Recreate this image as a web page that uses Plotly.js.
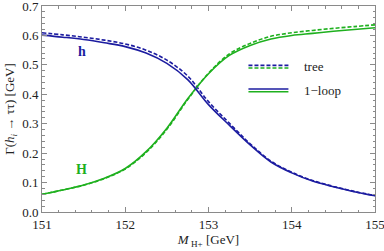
<!DOCTYPE html>
<html>
<head>
<meta charset="utf-8">
<script src="https://cdn.plot.ly/plotly-3.0.1.min.js"></script>
<style>html,body{margin:0;padding:0;background:#fff;}#chart{width:384px;height:251px;}</style>
</head>
<body>
<div id="chart"></div>
<script>
const mass = [151, 151.25, 151.5, 151.75, 152, 152.25, 152.5, 152.75, 153, 153.25, 153.5, 153.75, 154, 154.25, 154.5, 154.75, 155];
const hLoop = [0.601, 0.594, 0.586, 0.575, 0.562, 0.540, 0.505, 0.450, 0.365, 0.295, 0.228, 0.170, 0.133, 0.105, 0.086, 0.069, 0.055];
const hTree = [0.609, 0.602, 0.594, 0.584, 0.571, 0.550, 0.516, 0.462, 0.375, 0.302, 0.232, 0.173, 0.135, 0.107, 0.087, 0.070, 0.056];
const HLoop = [0.060, 0.075, 0.092, 0.115, 0.148, 0.205, 0.285, 0.385, 0.470, 0.532, 0.566, 0.588, 0.600, 0.607, 0.614, 0.620, 0.626];
const HTree = [0.060, 0.075, 0.091, 0.114, 0.146, 0.202, 0.281, 0.382, 0.472, 0.537, 0.573, 0.597, 0.609, 0.617, 0.624, 0.630, 0.636];
const xTicks = [151, 152, 153, 154, 155];
const yTicks = [0, 0.1, 0.2, 0.3, 0.4, 0.5, 0.6, 0.7];
const yTickText = ["0.0", "0.1", "0.2", "0.3", "0.4", "0.5", "0.6", "0.7"];

const BLUE = '#1c1ca0';
const GREEN = '#1eb01e';
const FONT = 'Liberation Serif, serif';

function tr(y, color, dash) {
  return {x: mass, y: y, mode: 'lines', line: {color: color, width: 1.6, dash: dash, shape: 'spline', smoothing: 1}, showlegend: false, hoverinfo: 'skip'};
}
const data = [
  tr(HTree, GREEN, '4px,2px'),
  tr(hTree, BLUE, '4px,2px'),
  tr(HLoop, GREEN, 'solid'),
  tr(hLoop, BLUE, 'solid')
];

const axCommon = {
  showgrid: false, zeroline: false, showline: true, linecolor: '#8a8a8a', linewidth: 1,
  mirror: 'allticks', ticks: 'inside', ticklen: 5, tickcolor: '#8a8a8a', tickwidth: 1,
  tickfont: {family: FONT, size: 13, color: '#222'},
  ticklabeloverflow: 'allow',
  minor: {ticks: 'inside', ticklen: 2.5, tickcolor: '#8a8a8a', tickwidth: 1}
};

const layout = {
  width: 384, height: 251,
  margin: {l: 42, r: 9, t: 6, b: 39},
  paper_bgcolor: '#fff', plot_bgcolor: '#fff',
  font: {family: FONT, color: '#222'},
  xaxis: Object.assign({}, axCommon, {
    range: [151, 155], tickvals: xTicks, ticktext: xTicks.map(String),
    minor: Object.assign({}, axCommon.minor, {dtick: 0.2}),
    title: {text: '<i>M</i><sub> H+</sub> [GeV]', font: {family: FONT, size: 13, color: '#222'}, standoff: 4}
  }),
  yaxis: Object.assign({}, axCommon, {
    range: [0, 0.7], tickvals: yTicks, ticktext: yTickText,
    minor: Object.assign({}, axCommon.minor, {dtick: 0.02}),
    title: {text: 'Γ(<i>h</i><sub><i>i</i></sub> → ττ) [GeV]', font: {family: FONT, size: 13, color: '#222'}, standoff: 4}
  }),
  shapes: [
    {type: 'line', xref: 'paper', yref: 'paper', x0: 0.62, x1: 0.74, y0: 0.712, y1: 0.712, line: {color: BLUE, width: 1.6, dash: '4px,2px'}},
    {type: 'line', xref: 'paper', yref: 'paper', x0: 0.62, x1: 0.74, y0: 0.699, y1: 0.699, line: {color: GREEN, width: 1.6, dash: '4px,2px'}},
    {type: 'line', xref: 'paper', yref: 'paper', x0: 0.62, x1: 0.74, y0: 0.597, y1: 0.597, line: {color: BLUE, width: 1.6}},
    {type: 'line', xref: 'paper', yref: 'paper', x0: 0.62, x1: 0.74, y0: 0.584, y1: 0.584, line: {color: GREEN, width: 1.6}}
  ],
  annotations: [
    {xref: 'paper', yref: 'paper', x: 0.78, y: 0.705, xanchor: 'left', yanchor: 'middle', text: 'tree', showarrow: false, font: {family: FONT, size: 13, color: '#222'}},
    {xref: 'paper', yref: 'paper', x: 0.78, y: 0.59, xanchor: 'left', yanchor: 'middle', text: '1−loop', showarrow: false, font: {family: FONT, size: 13, color: '#222'}},
    {xref: 'paper', yref: 'paper', x: 0.12, y: 0.78, xanchor: 'center', yanchor: 'middle', text: '<b>h</b>', showarrow: false, font: {family: FONT, size: 14, color: BLUE}},
    {xref: 'paper', yref: 'paper', x: 0.12, y: 0.208, xanchor: 'center', yanchor: 'middle', text: '<b>H</b>', showarrow: false, font: {family: FONT, size: 14, color: GREEN}}
  ]
};

Plotly.newPlot('chart', data, layout, {staticPlot: true, displayModeBar: false});
</script>
</body>
</html>
